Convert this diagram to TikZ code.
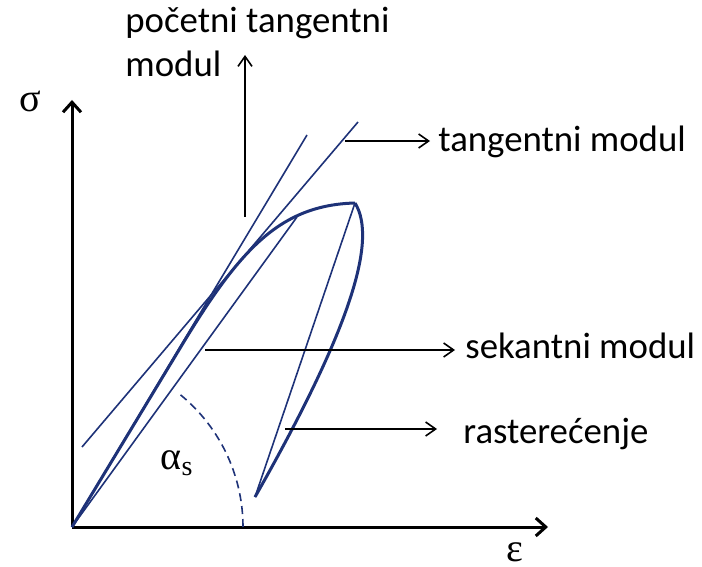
\documentclass[tikz,border=0pt]{standalone}
\usepackage{amsmath}
\usepackage{fontspec}
\setmainfont{Carlito}
\newfontfamily\grk{Liberation Serif}
\usetikzlibrary{arrows.meta, positioning}
\definecolor{curveblue}{RGB}{30,50,120}

\begin{document}
\begin{tikzpicture}[x=0.5pt, y=-0.5pt,
    lbl/.style={inner sep=0pt, font=\fontsize{18.4}{22}\selectfont},
    grklbl/.style={inner sep=0pt, font=\fontsize{20}{22}\grk},
    axis/.style={-{Straight Barb[length=5pt,width=9pt]}, line width=1.5pt},
    ptr/.style={-{Straight Barb[length=5pt,width=7pt]}, line width=0.8pt},
    thickline/.style={curveblue, line width=1.5pt},
    thinline/.style={curveblue, line width=0.8pt}]
    \useasboundingbox (0,0) rectangle (702,567);

    % Axes
    \coordinate (O) at (72,527);
    \coordinate (sigtop) at (72,100);
    \coordinate (epsend) at (548,527);
    \draw[axis] (O) -- (sigtop);
    \draw[axis] (O) -- (epsend);
    \node[grklbl] (sig) at (30,101) {σ};
    \node[grklbl] (eps) at (515,552) {ε};

    % Points on the curve
    \coordinate (bend) at (185,340);
    \coordinate (peak) at (355,203);
    \coordinate (low) at (255,497);
    \coordinate (sec) at (297,217);
    \coordinate (itan) at (307,135);
    \coordinate (tanA) at (82,447);
    \coordinate (tanB) at (358,122);

    % Loading and unloading
    \draw[thickline] (O) -- (bend) .. controls (240,250) and (280,205) .. (peak);
    \draw[thickline] (peak) .. controls (378,240) and (350,330) .. (low);
    \draw[thinline] (low) -- (peak);

    % Moduli
    \draw[thinline] (O) -- (sec);
    \draw[thinline] (O) -- (itan);
    \draw[thinline] (tanA) -- (tanB);
    \draw[thinline, dash pattern=on 4pt off 2.5pt] (O) ++(171,0) arc[start angle=0, end angle=-52, radius=171];
    \node[grklbl] (alpha) at (177,463) {α\textsubscript{\fontsize{14}{14}\selectfont s}};

    % Labels
    \node[lbl, anchor=north west, align=left] (ptm) at (125,7) {početni tangentni\\modul};
    \node[lbl, anchor=base west] (tan) at (438,152) {tangentni modul};
    \node[lbl, anchor=base west] (sek) at (465,358) {sekantni modul};
    \node[lbl, anchor=base west] (ras) at (463,443) {rasterećenje};

    % Connections
    \coordinate (pbot) at (245,217);
    \coordinate (ptop) at (245,55);
    \coordinate (tanfrom) at (345,141);
    \coordinate (sekfrom) at (205,350);
    \coordinate (rasfrom) at (285,429);
    \draw[ptr] (pbot) -- (ptop);
    \draw[ptr, shorten >=4pt] (tanfrom) -- (tanfrom -| tan.west);
    \draw[ptr, shorten >=5pt] (sekfrom) -- (sekfrom -| sek.west);
    \draw[ptr, shorten >=13pt] (rasfrom) -- (rasfrom -| ras.west);
\end{tikzpicture}
\end{document}
